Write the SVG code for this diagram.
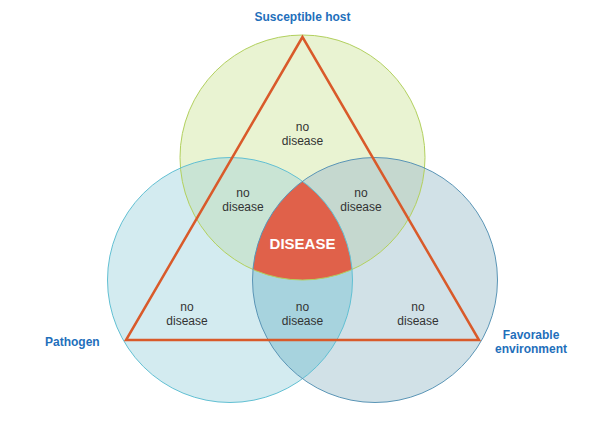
<svg xmlns="http://www.w3.org/2000/svg" width="605" height="428" viewBox="0 0 605 428">
<style>
.nd{font-family:"Liberation Sans",Arial,sans-serif;font-size:12px;fill:#333333;text-anchor:middle}
.lb{font-family:"Liberation Sans",Arial,sans-serif;font-size:12px;font-weight:bold;fill:#1f6fbb}
.dz{font-family:"Liberation Sans",Arial,sans-serif;font-size:15px;font-weight:bold;fill:#ffffff;text-anchor:middle}
</style>
<defs>
<clipPath id="cT"><circle cx="302.5" cy="157.5" r="122.5"/></clipPath>
<clipPath id="cL"><circle cx="230" cy="280" r="122.5"/></clipPath>
<clipPath id="cR"><circle cx="375" cy="280" r="122.5"/></clipPath>
</defs>
<rect width="605" height="428" fill="#ffffff"/>
<g id="fills">
<circle id="pathogen-circle" cx="230" cy="280" r="122.5" fill="#d3ebf0"/>
<circle id="environment-circle" cx="375" cy="280" r="122.5" fill="#d1e1e7"/>
<circle id="host-circle" cx="302.5" cy="157.5" r="122.5" fill="#e9f3d2"/>
<g clip-path="url(#cT)"><circle cx="230" cy="280" r="122.5" fill="#c9e4d4"/><circle cx="375" cy="280" r="122.5" fill="#c5d8cf"/></g>
<g clip-path="url(#cL)"><circle cx="375" cy="280" r="122.5" fill="#a7d3de"/></g>
<g clip-path="url(#cL)"><g clip-path="url(#cR)"><circle cx="302.5" cy="157.5" r="122.5" fill="#e0614a"/></g></g>
</g>
<g id="outlines" fill="none" stroke-width="1">
<circle cx="302.5" cy="157.5" r="122.5" stroke="#b2d05e"/>
<circle cx="230" cy="280" r="122.5" stroke="#62c0d3"/>
<circle cx="375" cy="280" r="122.5" stroke="#5a95b6"/>
</g>
<g id="connectors">
<polygon points="302.5,37 126,340 479,340" fill="none" stroke="#d95a2a" stroke-width="2.5" stroke-linejoin="miter"/>
</g>
<g id="region-labels">
<text class="nd" x="302.5" y="130.5">no<tspan x="302.5" dy="14">disease</tspan></text>
<text class="nd" x="243" y="196.5">no<tspan x="243" dy="14">disease</tspan></text>
<text class="nd" x="361" y="196.5">no<tspan x="361" dy="14">disease</tspan></text>
<text class="nd" x="187" y="310.5">no<tspan x="187" dy="14">disease</tspan></text>
<text class="nd" x="302.5" y="310.5">no<tspan x="302.5" dy="14">disease</tspan></text>
<text class="nd" x="418" y="310.5">no<tspan x="418" dy="14">disease</tspan></text>
<text class="dz" x="302.5" y="249">DISEASE</text>
</g>
<g id="node-host"><text class="lb" x="302.5" y="21" text-anchor="middle">Susceptible host</text></g>
<g id="node-pathogen"><text class="lb" x="45" y="346">Pathogen</text></g>
<g id="node-environment"><text class="lb" x="531" y="339" text-anchor="middle">Favorable<tspan x="531" dy="14">environment</tspan></text></g>
</svg>
